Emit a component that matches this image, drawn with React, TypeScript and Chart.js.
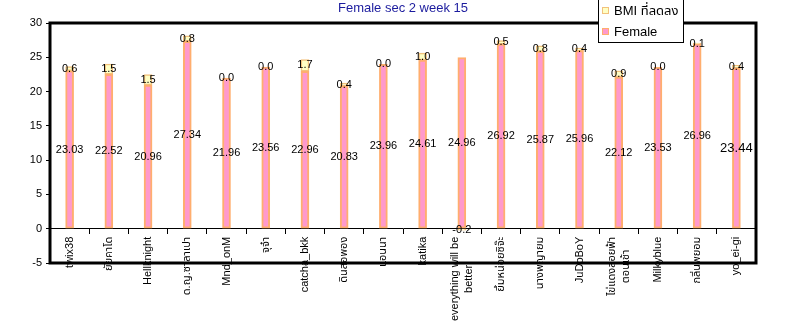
import { useEffect, useRef } from "react";
import { Chart, registerables } from "chart.js";

Chart.register(...registerables);

const categories: (string | string[])[] = [
  "twix38",
  "ยัยคาโด",
  "Hellknight",
  "ด.ญ.ซาลาเปา",
  "Mnd_onM",
  "จุจ๋า",
  "catcha_bkk",
  "ดินสอพอง",
  "แอนนา",
  "katika",
  ["everything will be", "better"],
  "ยิ้มหน่อยซิจ๊ะ",
  "นางพญายม",
  "JuDoBoY",
  ["ไข่แดงลอยฟ้า", "ตอนเช้า"],
  "Milkyblue",
  "กลิ่นพยอม",
  "yo_ei-gi",
];

const femaleValues = [
  23.03, 22.52, 20.96, 27.34, 21.96, 23.56, 22.96, 20.83, 23.96, 24.61, 24.96,
  26.92, 25.87, 25.96, 22.12, 23.53, 26.96, 23.44,
];

const bmiChange = [
  0.6, 1.5, 1.5, 0.8, 0.0, 0.0, 1.7, 0.4, 0.0, 1.0, -0.2, 0.5, 0.8, 0.4, 0.9,
  0.0, 0.1, 0.4,
];

const yMin = -5;
const yMax = 30;
const yStep = 5;

const titleText = "Female sec 2 week 15";
const femaleLabel = "Female";
const bmiLabel = "BMI ที่ลดลง";

const FONT = "'Liberation Sans', Arial, 'Noto Sans Thai', 'DejaVu Sans', sans-serif";
const largeLabelIndex = femaleValues.length - 1;

const plotBorderPlugin = {
  id: "plotBorder",
  afterDraw(chart: any) {
    const { ctx, chartArea } = chart;
    ctx.save();
    ctx.strokeStyle = "#000";
    ctx.lineWidth = 3;
    ctx.strokeRect(
      chartArea.left,
      chartArea.top,
      chartArea.right - chartArea.left,
      chartArea.bottom - chartArea.top
    );
    ctx.restore();
  },
};

const categoryLabelPlugin = {
  id: "categoryLabels",
  afterDatasetsDraw(chart: any) {
    const ctx = chart.ctx;
    const xs = chart.scales.x;
    const ys = chart.scales.y;
    const y0 = ys.getPixelForValue(0) + 8;
    const lineHeight = 14.5;
    ctx.save();
    ctx.fillStyle = "#000";
    ctx.font = `11px ${FONT}`;
    ctx.textBaseline = "middle";
    ctx.textAlign = "center";
    (chart.data.labels as (string | string[])[]).forEach((lab, i) => {
      const lines = Array.isArray(lab) ? lab : [lab];
      const x = xs.getPixelForValue(i);
      const w = Math.max(...lines.map((l) => ctx.measureText(l).width));
      ctx.save();
      ctx.translate(x, y0);
      ctx.rotate(-Math.PI / 2);
      lines.forEach((l, k) => {
        const off = (k - (lines.length - 1) / 2) * lineHeight;
        ctx.fillText(l, -w / 2, off);
      });
      ctx.restore();
    });
    ctx.restore();
  },
};

const valueLabelPlugin = {
  id: "valueLabels",
  afterDatasetsDraw(chart: any) {
    const ctx = chart.ctx;
    ctx.save();
    ctx.fillStyle = "#000";
    ctx.textAlign = "center";
    ctx.textBaseline = "middle";
    chart.data.datasets.forEach((ds: any, di: number) => {
      const meta = chart.getDatasetMeta(di);
      meta.data.forEach((bar: any, i: number) => {
        const v = ds.data[i] as number;
        const p = bar.getProps(["x", "y", "base"], true);
        const cy = (p.y + p.base) / 2;
        const isFemale = di === 0;
        const size = isFemale && i === largeLabelIndex ? 13 : 11;
        ctx.font = `${size}px ${FONT}`;
        ctx.fillText(v.toFixed(isFemale ? 2 : 1), p.x, cy);
      });
    });
    ctx.restore();
  },
};

const legendPlugin = {
  id: "boxLegend",
  afterDraw(chart: any) {
    const ctx = chart.ctx;
    const items = [...chart.data.datasets].reverse();
    ctx.save();
    ctx.fillStyle = "#fff";
    ctx.fillRect(598, -2, 85, 44);
    ctx.strokeStyle = "#000";
    ctx.lineWidth = 1;
    ctx.strokeRect(598.5, -2, 85, 44.5);
    ctx.font = `13px ${FONT}`;
    ctx.textBaseline = "middle";
    ctx.textAlign = "left";
    items.forEach((ds: any, k: number) => {
      const cy = 11 + k * 21;
      ctx.fillStyle = ds.backgroundColor;
      ctx.fillRect(602, cy - 4, 7, 7);
      ctx.strokeStyle = ds.borderColor;
      ctx.lineWidth = 1;
      ctx.strokeRect(602.5, cy - 3.5, 6, 6);
      ctx.fillStyle = "#000";
      ctx.fillText(ds.label, 614, cy);
    });
    ctx.restore();
  },
};

export default function App() {
  const canvasRef = useRef<HTMLCanvasElement | null>(null);

  useEffect(() => {
    if (!canvasRef.current) return;
    const chart = new Chart(canvasRef.current, {
      type: "bar",
      data: {
        labels: categories,
        datasets: [
          {
            label: femaleLabel,
            data: femaleValues,
            backgroundColor: "#FF99CC",
            borderColor: "#FFAE6E",
            borderWidth: 2,
            barThickness: 8,
            borderSkipped: false,
          },
          {
            label: bmiLabel,
            data: bmiChange,
            backgroundColor: "#FFFFC4",
            borderColor: "#F2C27C",
            borderWidth: 1.5,
            barThickness: 8,
            borderSkipped: false,
          },
        ],
      },
      options: {
        responsive: false,
        animation: false,
        layout: { padding: { left: 0, right: 32, top: 0, bottom: 68 } },
        plugins: {
          legend: { display: false },
          tooltip: { enabled: false },
          title: {
            display: true,
            text: titleText,
            color: "#1c1c9e",
            fullSize: false,
            font: { family: FONT, size: 13, weight: "normal", lineHeight: 1.2 },
            padding: { top: 1, bottom: 6.4 },
          },
        },
        scales: {
          x: {
            stacked: true,
            position: { y: 0 } as any,
            offset: true,
            grid: {
              display: true,
              offset: true,
              drawOnChartArea: false,
              drawTicks: true,
              tickLength: 5,
              color: "#000",
            },
            border: { display: true, color: "#000", width: 1 },
            ticks: {
              display: false,
              autoSkip: false,
            },
          },
          y: {
            stacked: true,
            min: yMin,
            max: yMax,
            ticks: {
              stepSize: yStep,
              padding: 4,
              color: "#000",
              font: { family: FONT, size: 11 },
            },
            grid: {
              display: true,
              drawOnChartArea: false,
              drawTicks: true,
              tickLength: 4,
              color: "#000",
            },
            border: { display: false },
            afterFit: (scale: any) => {
              scale.width = 50;
            },
          },
        },
      },
      plugins: [valueLabelPlugin, categoryLabelPlugin, plotBorderPlugin, legendPlugin],
    });
    return () => chart.destroy();
  }, []);

  return (
    <div style={{ position: "absolute", left: 0, top: 0, width: 788, height: 331, background: "#fff" }}>
      <canvas ref={canvasRef} width={788} height={331} style={{ display: "block" }} />
    </div>
  );
}
